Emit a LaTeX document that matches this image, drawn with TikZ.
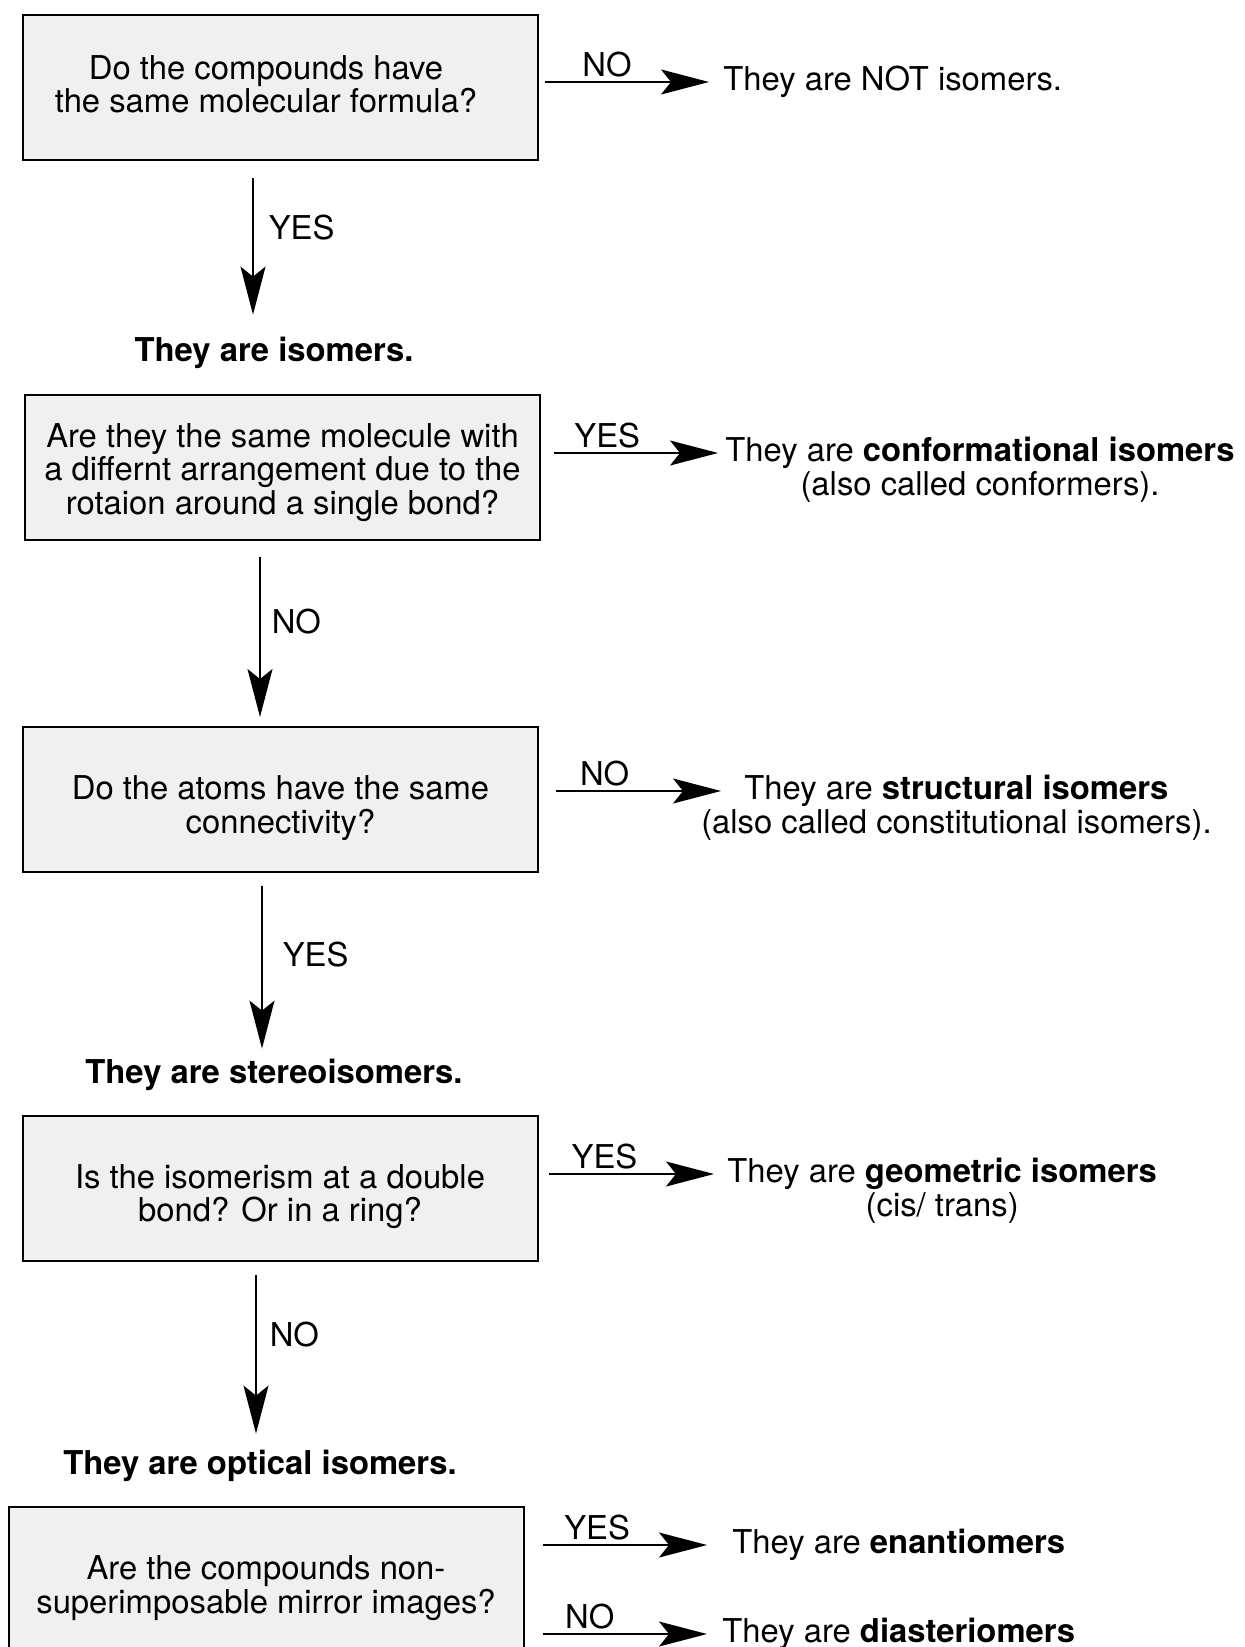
\documentclass[tikz,border=0pt]{standalone}
\usepackage{fontspec}
\setmainfont{TeX Gyre Heros}
\usetikzlibrary{positioning,arrows.meta}

\begin{document}
\begin{tikzpicture}[x=0.5pt,y=-0.5pt,
  every node/.style={font=\fontsize{16.4}{16.8}\selectfont,inner sep=0pt},
  qbox/.style={draw,line width=1pt,fill=gray!12,minimum width=257.5pt,minimum height=72.5pt,align=center,text height=#1},
  qbox/.default=37.2pt,
  res/.style={text height=12pt,text depth=3.5pt},
  ans/.style={res,above=-1pt},
  vlab/.style={res,right=#1,yshift=-1.6pt},
  arr/.style={line width=0.8pt,-{Stealth[length=24pt,width=12.5pt,inset=5pt]}}]
\useasboundingbox (0,0) rectangle (1244,1647);
\clip (0,0) rectangle (1244,1647);

\node[qbox=25.6pt] (q1) at (280.5,87.5) {Do the compounds have\hspace*{14.5pt}\\the same molecular formula?\hspace*{14.5pt}};
\node[res,anchor=west] (r1) at (723,82) {They are NOT isomers.};
\node[res] (isom) at (274,353) {\textbf{They are isomers.}};

\node[qbox=50.9pt] (q2) at (282.5,467) {Are they the same molecule with\\a differnt arrangement due to the\\rotaion around a single bond?};
\node[res,anchor=west] (r2) at (725,453) {They are \textbf{conformational isomers}};
\node[res,below=1pt of r2] (r2b) {(also called conformers).};

\node[qbox] (q3) at (280.5,799.5) {Do the atoms have the same\\connectivity?};
\node[res,anchor=west] (r3) at (744,791) {They are \textbf{structural isomers}};
\node[res,below=1pt of r3] (r3b) {(also called constitutional isomers).};
\node[res] (stereo) at (274,1075) {\textbf{They are stereoisomers.}};

\node[qbox] (q4) at (280,1188) {Is the isomerism at a double\\bond? Or in a ring?};
\node[res,anchor=west] (r4) at (727,1174) {They are \textbf{geometric isomers}};
\node[res,below=1pt of r4] (r4b) {(cis/ trans)};
\node[res] (optical) at (260,1466) {\textbf{They are optical isomers.}};

\node[qbox] (q5) at (266,1579.5) {Are the compounds non-\\superimposable mirror images?};
\node[res,anchor=west] (r5) at (732,1545) {They are \textbf{enantiomers}};
\node[res,anchor=west] (r6) at (722,1634) {They are \textbf{diasteriomers}};

\draw[arr,shorten <=3pt,shorten >=7pt] (q1.east |- r1.west) -- (r1.west) node[ans,pos=0.37] {NO};
\draw[arr,shorten <=8.5pt,shorten >=11.25pt] ([xshift=-13.75pt]q1.south) -- ([xshift=-10.5pt]isom.north) node[vlab=7.5pt,pos=0.38] {YES};
\draw[arr,shorten <=6.5pt,shorten >=3.5pt] (q2.east |- r2.west) -- (r2.west) node[ans,pos=0.36] {YES};
\draw[arr,shorten <=8pt,shorten >=4.5pt] ([xshift=-11.25pt]q2.south) -- ([xshift=-10.25pt]q3.north) node[vlab=5.5pt,pos=0.44] {NO};
\draw[arr,shorten <=8.5pt,shorten >=11.5pt] (q3.east |- r3.west) -- (r3.west) node[ans,pos=0.32] {NO};
\draw[arr,shorten <=6.5pt,shorten >=5.25pt] ([xshift=-9.25pt]q3.south) -- ([xshift=-6pt]stereo.north) node[vlab=10pt,pos=0.44] {YES};
\draw[arr,shorten <=5pt,shorten >=6.5pt] (q4.east |- r4.west) -- (r4.west) node[ans,pos=0.35] {YES};
\draw[arr,shorten <=6.5pt,shorten >=8.25pt] ([xshift=-12pt]q4.south) -- ([xshift=-2pt]optical.north) node[vlab=6.5pt,pos=0.39] {NO};
\draw[arr,shorten <=9pt,shorten >=12.5pt] (q5.east |- r5.west) -- (r5.west) node[ans,pos=0.35] {YES};
\draw[arr,shorten <=9pt,shorten >=7.5pt] (q5.east |- r6.west) -- (r6.west) node[ans,pos=0.33] {NO};
\end{tikzpicture}
\end{document}
